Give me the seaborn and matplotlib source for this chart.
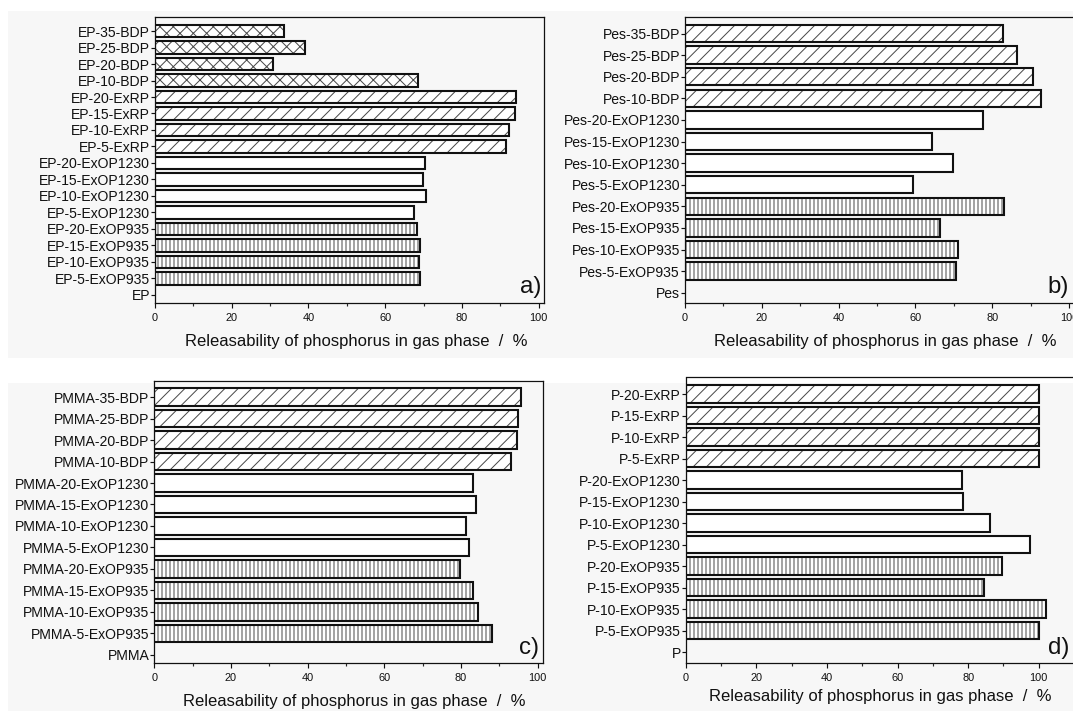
import numpy as np
import pandas as pd
import matplotlib
matplotlib.use("Agg")
import matplotlib.pyplot as plt
from matplotlib.patches import Rectangle
from matplotlib.ticker import MultipleLocator, FixedLocator
import seaborn as sns

# ---------------- data ----------------
ep_labels = ['EP-35-BDP', 'EP-25-BDP', 'EP-20-BDP', 'EP-10-BDP',
             'EP-20-ExRP', 'EP-15-ExRP', 'EP-10-ExRP', 'EP-5-ExRP',
             'EP-20-ExOP1230', 'EP-15-ExOP1230', 'EP-10-ExOP1230', 'EP-5-ExOP1230',
             'EP-20-ExOP935', 'EP-15-ExOP935', 'EP-10-ExOP935', 'EP-5-ExOP935', 'EP']
ep_values = [33.5, 39.1, 30.7, 68.5, 94.1, 93.7, 92.3, 91.5,
             70.3, 69.9, 70.5, 67.4, 68.2, 69.0, 68.8, 69.1, 0]

pes_labels = ['Pes-35-BDP', 'Pes-25-BDP', 'Pes-20-BDP', 'Pes-10-BDP',
              'Pes-20-ExOP1230', 'Pes-15-ExOP1230', 'Pes-10-ExOP1230', 'Pes-5-ExOP1230',
              'Pes-20-ExOP935', 'Pes-15-ExOP935', 'Pes-10-ExOP935', 'Pes-5-ExOP935', 'Pes']
pes_values = [82.9, 86.4, 90.5, 92.6, 77.6, 64.2, 69.9, 59.3, 83.1, 66.5, 71.1, 70.5, 0]

pmma_labels = ['PMMA-35-BDP', 'PMMA-25-BDP', 'PMMA-20-BDP', 'PMMA-10-BDP',
               'PMMA-20-ExOP1230', 'PMMA-15-ExOP1230', 'PMMA-10-ExOP1230', 'PMMA-5-ExOP1230',
               'PMMA-20-ExOP935', 'PMMA-15-ExOP935', 'PMMA-10-ExOP935', 'PMMA-5-ExOP935', 'PMMA']
pmma_values = [95.6, 94.9, 94.5, 92.9, 83.0, 83.9, 81.4, 82.1, 79.8, 83.2, 84.3, 88.1, 0]

p_labels = ['P-20-ExRP', 'P-15-ExRP', 'P-10-ExRP', 'P-5-ExRP',
            'P-20-ExOP1230', 'P-15-ExOP1230', 'P-10-ExOP1230', 'P-5-ExOP1230',
            'P-20-ExOP935', 'P-15-ExOP935', 'P-10-ExOP935', 'P-5-ExOP935', 'P']
p_values = [100.1, 100.0, 100.0, 100.0, 78.2, 78.4, 86.1, 97.4, 89.6, 84.6, 101.9, 100.1, 0]

panel_tags = ['a)', 'b)', 'c)', 'd)']
x_label = 'Releasability of phosphorus in gas phase  /  %'

# ---------------- style ----------------
sns.set_style('ticks')
plt.rcParams['font.family'] = ['Liberation Sans', 'DejaVu Sans']
plt.rcParams['hatch.linewidth'] = 0.6
plt.rcParams['axes.linewidth'] = 0.75

W, H, DPI = 1073, 711, 120
fig = plt.figure(figsize=(W / DPI, H / DPI), dpi=DPI, facecolor='white')

def fx(x):
    return x / W

def fy(y):
    return 1 - y / H

# light grey screenshot backgrounds of the two rows
for (l, t, r, b) in [(8, 11, 1073, 358), (8, 383, 1073, 711)]:
    fig.add_artist(Rectangle((fx(l), fy(b)), (r - l) / W, (b - t) / H,
                             transform=fig.transFigure, facecolor='#f7f7f7',
                             edgecolor='none', zorder=0))

# layout in pixels: left, top, bottom, px-per-unit, xmax, pads, bar width, tag pos, xlabel pos
panels = [
    dict(labels=ep_labels, values=ep_values, left=155, top=17, bottom=302.7, scale=3.837,
         xmax=101.4, pad_bot=0.47, pad_top=0.85, width=0.74, tag=(541, 287), xl=(356.5, 341.5)),
    dict(labels=pes_labels, values=pes_values, left=685, top=17.3, bottom=303.3, scale=3.84,
         xmax=105, pad_bot=0.49, pad_top=0.75, width=0.8, tag=(1069, 287), xl=(885, 341.5)),
    dict(labels=pmma_labels, values=pmma_values, left=154.3, top=380.5, bottom=663.3, scale=3.835,
         xmax=101.3, pad_bot=0.39, pad_top=0.77, width=0.8, tag=(539, 648), xl=(354.5, 701.7)),
    dict(labels=p_labels, values=p_values, left=685.8, top=377.5, bottom=663, scale=3.53,
         xmax=112, pad_bot=0.51, pad_top=0.77, width=0.8, tag=(1069, 648), xl=(880, 697)),
]

def hatch_for(label, prefix):
    if 'BDP' in label:
        return 'xxx' if prefix == 'EP' else '///'
    if 'ExRP' in label:
        return '///'
    if 'ExOP935' in label:
        return '|||||'
    return ''

for i, pnl in enumerate(panels):
    right = pnl['left'] + pnl['xmax'] * pnl['scale']
    ax = fig.add_axes([fx(pnl['left']), fy(pnl['bottom']),
                       (right - pnl['left']) / W, (pnl['bottom'] - pnl['top']) / H])
    ax.set_facecolor('none')
    df = pd.DataFrame({'label': pnl['labels'], 'value': pnl['values']})
    sns.barplot(data=df, x='value', y='label', order=pnl['labels'], orient='h',
                color='white', saturation=1, width=pnl['width'], ax=ax, errorbar=None)
    prefix = pnl['labels'][-1]
    for patch, lab in zip(ax.patches, pnl['labels']):
        h = hatch_for(lab, prefix)
        patch.set_facecolor('white')
        patch.set_edgecolor('#4a4a4a')
        patch.set_linewidth(0)
        patch.set_hatch(h)
        if patch.get_width() > 0:
            ax.add_patch(Rectangle(patch.get_xy(), patch.get_width(), patch.get_height(),
                                   fill=False, edgecolor='#111111', linewidth=1.25, zorder=3))
    n = len(pnl['labels'])
    ax.set_xlim(0, pnl['xmax'])
    ax.set_ylim(n - 1 + pnl['pad_bot'], -pnl['pad_top'])
    ax.xaxis.set_major_locator(FixedLocator([0, 20, 40, 60, 80, 100]))
    ax.xaxis.set_minor_locator(MultipleLocator(10))
    ax.tick_params(axis='x', which='major', length=3.0, width=0.7, pad=3,
                   labelsize=6.6, direction='out', colors='#111111')
    ax.tick_params(axis='x', which='minor', length=1.8, width=0.7, direction='out')
    ax.tick_params(axis='y', which='major', length=2.4, width=0.7, pad=0.6,
                   labelsize=8.4, direction='out', colors='#111111')
    for s in ax.spines.values():
        s.set_visible(True)
        s.set_color('#111111')
        s.set_linewidth(0.75)
    ax.set_ylabel('')
    ax.set_xlabel('')
    fig.text(fx(pnl['xl'][0]), fy(pnl['xl'][1]), x_label, ha='center', va='center',
             fontsize=10, color='#111111')
    fig.text(fx(pnl['tag'][0]), fy(pnl['tag'][1]), panel_tags[i], ha='right', va='center',
             fontsize=14.4, color='#111111')

fig.savefig('out.png', dpi=DPI, facecolor='white')
